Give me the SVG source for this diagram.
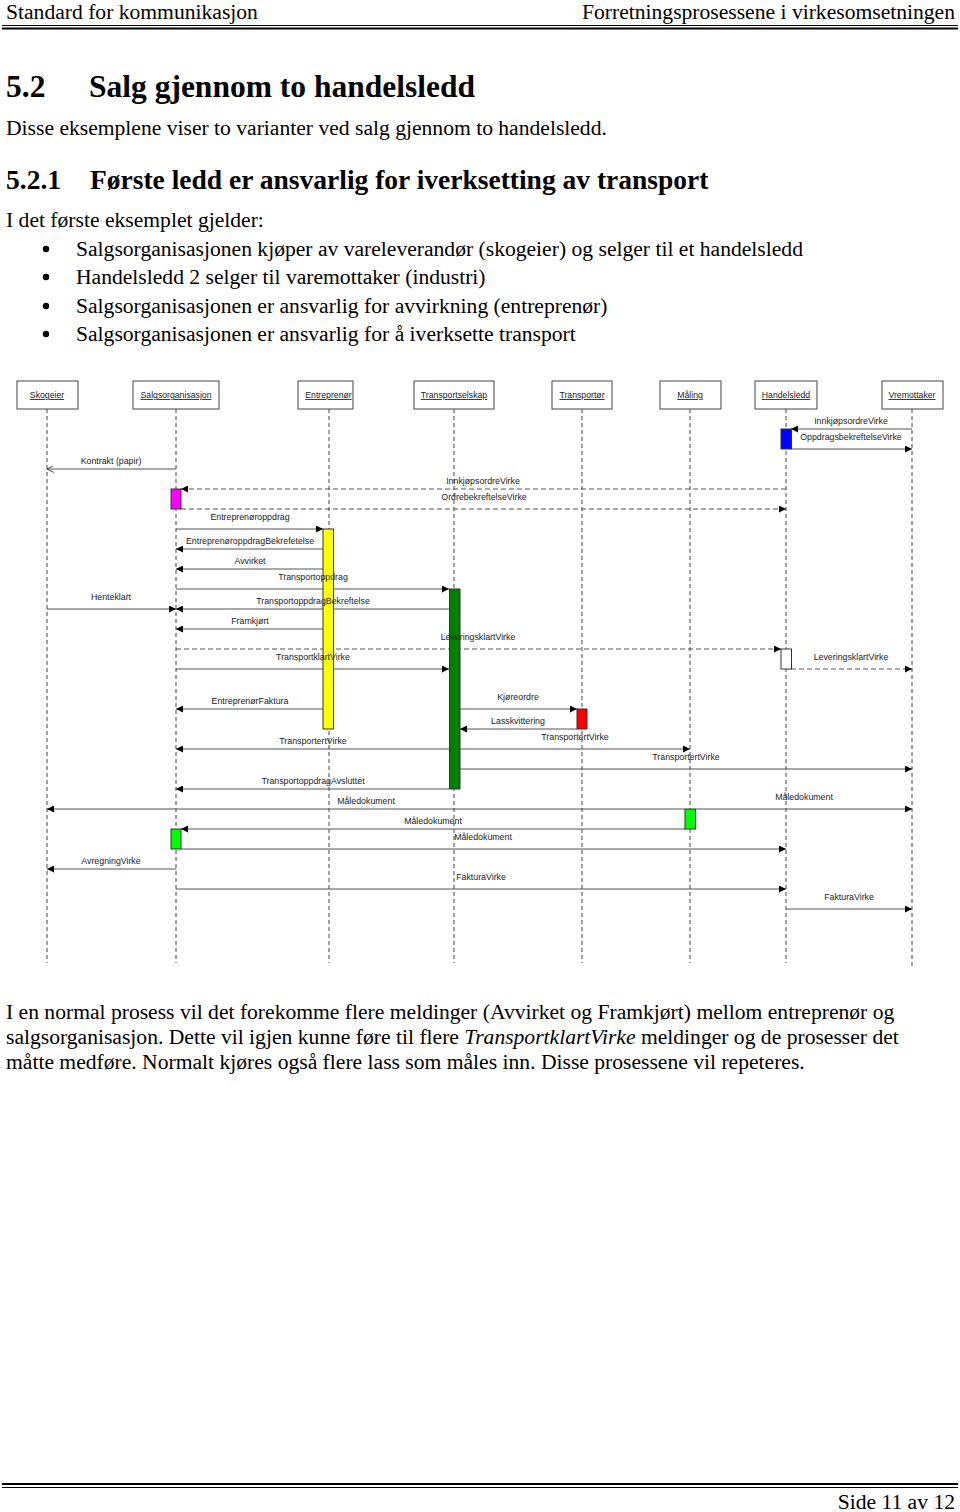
<svg xmlns="http://www.w3.org/2000/svg" width="960" height="1512" viewBox="0 0 960 1512">
<style>
.serif{font-family:"Liberation Serif","Times New Roman",serif;fill:#000}
.body{font-size:21.6px}
.lbl{font-family:"Liberation Sans",Arial,sans-serif;font-size:8.8px;fill:#222;text-anchor:middle}
.hdr{font-family:"Liberation Sans",Arial,sans-serif;font-size:8.7px;fill:#222;text-anchor:middle;text-decoration:underline}
.box{fill:#fff;stroke:#444;stroke-width:1}
.life{stroke:#444;stroke-width:1;stroke-dasharray:4,3;fill:none}
.msg{stroke:#555;stroke-width:1;fill:none;marker-end:url(#arr)}
.dash{stroke-dasharray:5,3}
.open{marker-end:url(#open)}
.act{stroke:#333;stroke-width:1}
</style>
<defs>
<marker id="arr" viewBox="0 0 8 8" refX="8" refY="4" markerWidth="7" markerHeight="7" markerUnits="userSpaceOnUse" orient="auto"><path d="M0,0 L8,4 L0,8 z" fill="#000"/></marker>
<marker id="open" viewBox="0 0 8 8" refX="8" refY="4" markerWidth="7" markerHeight="7" markerUnits="userSpaceOnUse" orient="auto"><path d="M0,0 L8,4 L0,8" fill="none" stroke="#333" stroke-width="1"/></marker>
</defs>
<rect width="960" height="1512" fill="#fff"/>
<!-- page header -->
<g id="page-header">
<text class="serif" x="6" y="19" font-size="21.6">Standard for kommunikasjon</text>
<text class="serif" x="955" y="19" font-size="21.6" text-anchor="end">Forretningsprosessene i virkesomsetningen</text>
<line x1="2" y1="25.5" x2="958" y2="25.5" stroke="#000" stroke-width="1"/>
<line x1="2" y1="28.5" x2="958" y2="28.5" stroke="#000" stroke-width="2"/>
</g>
<g id="text-top">
<text class="serif" x="6" y="97" font-size="31.5" font-weight="bold">5.2</text>
<text class="serif" x="89" y="97" font-size="31.5" font-weight="bold">Salg gjennom to handelsledd</text>
<text class="serif body" x="6" y="135">Disse eksemplene viser to varianter ved salg gjennom to handelsledd.</text>
<text class="serif" x="6" y="189" font-size="27.5" font-weight="bold">5.2.1</text>
<text class="serif" x="90" y="189" font-size="27.5" font-weight="bold">Første ledd er ansvarlig for iverksetting av transport</text>
<text class="serif body" x="6" y="227">I det første eksemplet gjelder:</text>
<circle cx="46" cy="249" r="3.2" fill="#000"/>
<circle cx="46" cy="277" r="3.2" fill="#000"/>
<circle cx="46" cy="306" r="3.2" fill="#000"/>
<circle cx="46" cy="334" r="3.2" fill="#000"/>
<text class="serif body" x="76" y="256">Salgsorganisasjonen kjøper av vareleverandør (skogeier) og selger til et handelsledd</text>
<text class="serif body" x="76" y="284">Handelsledd 2 selger til varemottaker (industri)</text>
<text class="serif body" x="76" y="313">Salgsorganisasjonen er ansvarlig for avvirkning (entreprenør)</text>
<text class="serif body" x="76" y="341">Salgsorganisasjonen er ansvarlig for å iverksette transport</text>
</g>
<!-- lifelines / participants -->
<g id="skogeier"><rect class="box" x="17" y="381" width="61" height="28"/><text class="hdr" x="47" y="398">Skogeier</text><line class="life" x1="47" y1="409" x2="47" y2="963"/></g>
<g id="salgsorganisasjon"><rect class="box" x="133" y="381" width="86" height="28"/><text class="hdr" x="176" y="398">Salgsorganisasjon</text><line class="life" x1="176" y1="409" x2="176" y2="963"/></g>
<g id="entreprenor"><rect class="box" x="298" y="381" width="55" height="28"/><text class="hdr" x="328.5" y="398">Entreprenør</text><line class="life" x1="329" y1="409" x2="329" y2="963"/></g>
<g id="transportselskap"><rect class="box" x="414" y="381" width="80" height="28"/><text class="hdr" x="454" y="398">Transportselskap</text><line class="life" x1="454" y1="409" x2="454" y2="963"/></g>
<g id="transportor"><rect class="box" x="552" y="381" width="60" height="28"/><text class="hdr" x="582" y="398">Transportør</text><line class="life" x1="582" y1="409" x2="582" y2="963"/></g>
<g id="maling"><rect class="box" x="660" y="381" width="61" height="28"/><text class="hdr" x="690" y="398">Måling</text><line class="life" x1="690" y1="409" x2="690" y2="963"/></g>
<g id="handelsledd"><rect class="box" x="755" y="381" width="62" height="28"/><text class="hdr" x="786" y="398">Handelsledd</text><line class="life" x1="786" y1="409" x2="786" y2="963"/></g>
<g id="vremottaker"><rect class="box" x="882" y="381" width="61" height="28"/><text class="hdr" x="912" y="398">Vremottaker</text><line class="life" x1="912" y1="409" x2="912" y2="968"/></g>
<!-- connectors -->
<g id="connectors">
<line class="msg" x1="912" y1="429" x2="791" y2="429"/>
<line class="msg" x1="791" y1="449" x2="912" y2="449"/>
<line class="msg open" x1="176" y1="469" x2="47" y2="469"/>
<line class="msg dash" x1="786" y1="489" x2="181" y2="489"/>
<line class="msg dash" x1="181" y1="509" x2="786" y2="509"/>
<line class="msg" x1="176" y1="529" x2="323" y2="529"/>
<line class="msg" x1="323" y1="549" x2="176" y2="549"/>
<line class="msg" x1="323" y1="569" x2="176" y2="569"/>
<line class="msg" x1="176" y1="589" x2="449" y2="589"/>
<line class="msg" x1="47" y1="609" x2="176" y2="609"/>
<line class="msg" x1="449" y1="609" x2="176" y2="609"/>
<line class="msg" x1="323" y1="629" x2="176" y2="629"/>
<line class="msg dash" x1="176" y1="649" x2="781" y2="649"/>
<line class="msg" x1="176" y1="669" x2="449" y2="669"/>
<line class="msg dash" x1="791" y1="669" x2="912" y2="669"/>
<line class="msg" x1="323" y1="709" x2="176" y2="709"/>
<line class="msg" x1="460" y1="709" x2="577" y2="709"/>
<line class="msg" x1="577" y1="729" x2="460" y2="729"/>
<line class="msg" x1="449" y1="749" x2="176" y2="749"/>
<line class="msg" x1="460" y1="749" x2="690" y2="749"/>
<line class="msg" x1="460" y1="769" x2="912" y2="769"/>
<line class="msg" x1="449" y1="789" x2="176" y2="789"/>
<line class="msg" x1="685" y1="809" x2="47" y2="809"/>
<line class="msg" x1="696" y1="809" x2="912" y2="809"/>
<line class="msg" x1="685" y1="829" x2="181" y2="829"/>
<line class="msg" x1="181" y1="849" x2="786" y2="849"/>
<line class="msg" x1="176" y1="869" x2="47" y2="869"/>
<line class="msg" x1="176" y1="889" x2="786" y2="889"/>
<line class="msg" x1="786" y1="909" x2="912" y2="909"/>
</g>
<!-- activation boxes -->
<g id="activations">
<rect class="act" x="781" y="429" width="10.5" height="20" fill="#0000ff"/>
<rect class="act" x="171" y="489" width="10" height="20" fill="#ff00ff"/>
<rect class="act" x="323" y="529" width="10.5" height="200" fill="#ffff00"/>
<rect class="act" x="449.5" y="589" width="10.5" height="200" fill="#007f00"/>
<rect class="act" x="781" y="649" width="10.5" height="20" fill="#fff"/>
<rect class="act" x="577" y="709" width="10" height="20" fill="#ff0000"/>
<rect class="act" x="685" y="809" width="10.5" height="20" fill="#00ff00"/>
<rect class="act" x="171" y="829" width="10" height="20" fill="#00ff00"/>
</g>
<g id="labels">
<text class="lbl" x="851" y="424">InnkjøpsordreVirke</text>
<text class="lbl" x="851" y="440">OppdragsbekreftelseVirke</text>
<text class="lbl" x="111" y="464">Kontrakt (papir)</text>
<text class="lbl" x="483" y="484">InnkjøpsordreVirke</text>
<text class="lbl" x="484" y="500">OrdrebekreftelseVirke</text>
<text class="lbl" x="250" y="520">Entreprenøroppdrag</text>
<text class="lbl" x="250" y="544">EntreprenøroppdragBekrefetelse</text>
<text class="lbl" x="250" y="564">Avvirket</text>
<text class="lbl" x="313" y="580">Transportoppdrag</text>
<text class="lbl" x="111" y="600">Henteklart</text>
<text class="lbl" x="313" y="604">TransportoppdragBekreftelse</text>
<text class="lbl" x="250" y="624">Framkjørt</text>
<text class="lbl" x="478" y="640">LeveringsklartVirke</text>
<text class="lbl" x="313" y="660">TransportklartVirke</text>
<text class="lbl" x="851" y="660">LeveringsklartVirke</text>
<text class="lbl" x="250" y="704">EntreprenørFaktura</text>
<text class="lbl" x="518" y="700">Kjøreordre</text>
<text class="lbl" x="518" y="724">Lasskvittering</text>
<text class="lbl" x="313" y="744">TransportertVirke</text>
<text class="lbl" x="575" y="740">TransportertVirke</text>
<text class="lbl" x="686" y="760">TransportertVirke</text>
<text class="lbl" x="313" y="784">TransportoppdragAvsluttet</text>
<text class="lbl" x="366" y="804">Måledokument</text>
<text class="lbl" x="804" y="800">Måledokument</text>
<text class="lbl" x="433" y="824">Måledokument</text>
<text class="lbl" x="483" y="840">Måledokument</text>
<text class="lbl" x="111" y="864">AvregningVirke</text>
<text class="lbl" x="481" y="880">FakturaVirke</text>
<text class="lbl" x="849" y="900">FakturaVirke</text>
</g>
<g id="text-bottom">
<text class="serif body" x="6" y="1019">I en normal prosess vil det forekomme flere meldinger (Avvirket og Framkjørt) mellom entreprenør og</text>
<text class="serif body" x="6" y="1044">salgsorganisasjon. Dette vil igjen kunne føre til flere <tspan font-style="italic">TransportklartVirke</tspan> meldinger og de prosesser det</text>
<text class="serif body" x="6" y="1069">måtte medføre. Normalt kjøres også flere lass som måles inn. Disse prosessene vil repeteres.</text>
</g>
<g id="page-footer">
<line x1="2" y1="1484" x2="958" y2="1484" stroke="#000" stroke-width="2"/>
<line x1="2" y1="1487.5" x2="958" y2="1487.5" stroke="#000" stroke-width="1"/>
<text class="serif" x="955" y="1509" font-size="21.6" text-anchor="end">Side 11 av 12</text>
</g>
</svg>
